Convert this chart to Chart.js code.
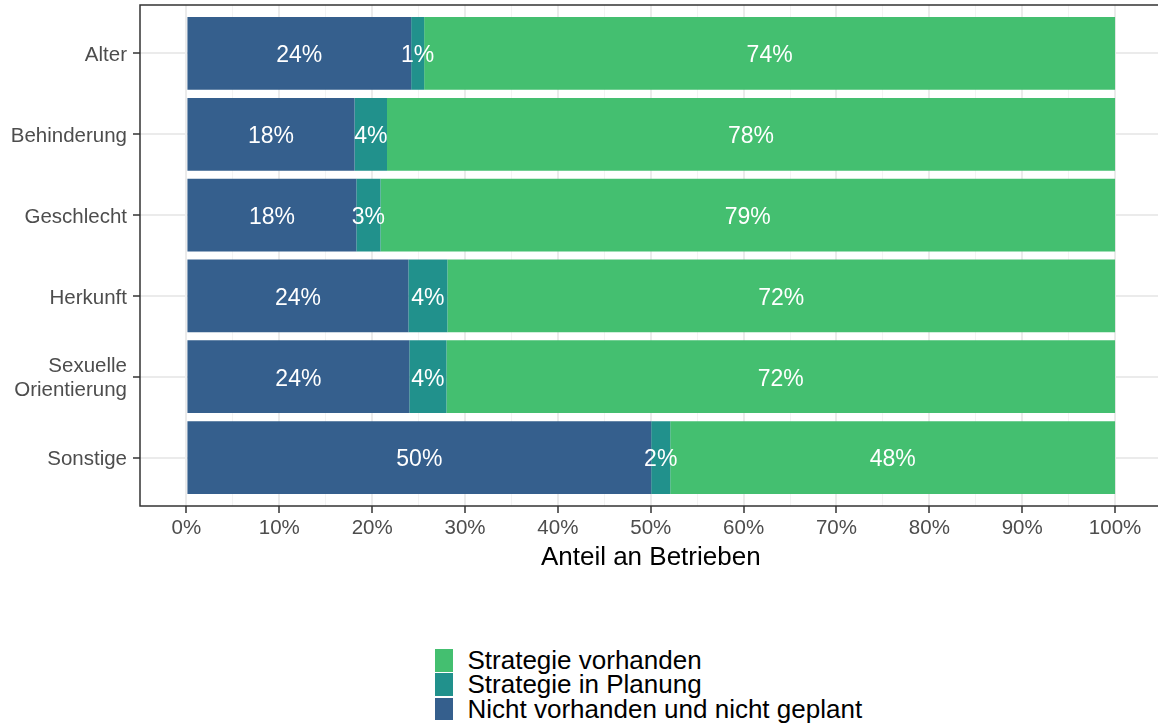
<!DOCTYPE html>
<html>
<head>
<meta charset="utf-8">
<script src="https://cdn.jsdelivr.net/npm/chart.js@4.4.1/dist/chart.umd.min.js"></script>
<style>
  html, body { margin: 0; padding: 0; background: #fff; overflow: hidden; width: 1158px; height: 725px; }
  #wrap { position: absolute; left: 0; top: 0; width: 1170px; height: 580px; }
  #legend { position: absolute; left: 435px; top: 649px; font-family: 'Liberation Sans', Arial, sans-serif; font-size: 26px; color: #000; }
  .item { position: relative; height: 24.3px; width: 500px; }
  .key { position: absolute; left: 0; top: 0; width: 18px; height: 22.8px; }
  .txt { position: absolute; left: 32.5px; top: -1px; line-height: 24px; white-space: nowrap; }
</style>
</head>
<body>
<div id="wrap"><canvas id="chart" width="1170" height="580"></canvas></div>
<div id="legend"></div>
<script>
// Categories, top to bottom
const categories = ['Alter', 'Behinderung', 'Geschlecht', 'Herkunft', ['Sexuelle', 'Orientierung'], 'Sonstige'];

// Series (stacked left to right)
const seriesNames = ['Nicht vorhanden und nicht geplant', 'Strategie in Planung', 'Strategie vorhanden'];
const seriesColors = ['#355F8D', '#21918C', '#44BF70'];
const nichtVorhanden = [24.2, 18.1, 18.3, 23.9, 24.0, 50.05];
const inPlanung = [1.4, 3.5, 2.6, 4.2, 4.0, 2.05];
const vorhanden = [74.4, 78.4, 79.1, 71.9, 72.0, 47.9];

// Axis ticks
const xMajorTicks = [0, 10, 20, 30, 40, 50, 60, 70, 80, 90, 100];
const xMinorTicks = [5, 15, 25, 35, 45, 55, 65, 75, 85, 95];
const xTitle = 'Anteil an Betrieben';

const FONT = "'Liberation Sans', Arial, sans-serif";

function toPoints(values) {
    return values.map((v, i) => ({ x: v, y: i }));
}

const seriesValues = [nichtVorhanden, inPlanung, vorhanden];

// White percentage labels in the middle of each segment
const segmentLabels = {
    id: 'segmentLabels',
    afterDatasetsDraw(chart) {
        const ctx = chart.ctx;
        ctx.save();
        ctx.fillStyle = '#fff';
        ctx.font = '23px ' + FONT;
        ctx.textAlign = 'center';
        ctx.textBaseline = 'middle';
        chart.data.datasets.forEach((ds, di) => {
            const meta = chart.getDatasetMeta(di);
            meta.data.forEach((bar, i) => {
                const p = bar.getProps(['x', 'base', 'y'], true);
                const text = Math.round(ds.data[i].x) + '%';
                ctx.fillText(text, (p.x + p.base) / 2, p.y + 2.5);
            });
        });
        ctx.restore();
    }
};

// Dark frame round the panel
const panelBorder = {
    id: 'panelBorder',
    afterDraw(chart) {
        const a = chart.chartArea;
        const ctx = chart.ctx;
        ctx.save();
        ctx.strokeStyle = '#333333';
        ctx.lineWidth = 1.5;
        ctx.strokeRect(a.left, a.top, a.right - a.left, a.bottom - a.top);
        ctx.restore();
    }
};

function initializeChart() {

    const ctx = document.getElementById('chart').getContext('2d');

    new Chart(ctx, {
        type: 'bar',
        data: {
            datasets: seriesNames.map((name, i) => ({
                label: name,
                data: toPoints(seriesValues[i]),
                backgroundColor: seriesColors[i],
                borderWidth: 0,
                barPercentage: 0.9,
                categoryPercentage: 1
            }))
        },
        options: {
            indexAxis: 'y',
            responsive: false,
            animation: false,
            devicePixelRatio: 1,
            layout: { padding: { top: 5, left: 0, right: 8.5, bottom: 0 } },
            plugins: {
                legend: { display: false },
                tooltip: { enabled: false }
            },
            scales: {
                x: {
                    type: 'linear',
                    stacked: true,
                    min: -5,
                    max: 105,
                    afterBuildTicks(scale) {
                        scale.ticks = xMajorTicks.concat(xMinorTicks).sort((a, b) => a - b).map(v => ({ value: v }));
                    },
                    afterFit(scale) {
                        scale.height = 74;
                        scale.paddingLeft = 0;
                        scale.paddingRight = 0;
                    },
                    border: { display: false },
                    grid: {
                        color: c => xMajorTicks.includes(c.tick.value) ? '#EBEBEB' : '#F3F3F3',
                        lineWidth: c => xMajorTicks.includes(c.tick.value) ? 2 : 1,
                        tickColor: c => xMajorTicks.includes(c.tick.value) ? '#333333' : 'rgba(0,0,0,0)',
                        tickWidth: 1.5,
                        tickLength: 7
                    },
                    ticks: {
                        autoSkip: false,
                        maxRotation: 0,
                        minRotation: 0,
                        padding: 3,
                        color: '#4D4D4D',
                        font: { family: FONT, size: 20.5 },
                        callback: v => xMajorTicks.includes(v) ? v + '%' : ''
                    },
                    title: {
                        display: true,
                        text: xTitle,
                        color: '#000',
                        font: { family: FONT, size: 26 },
                        padding: { top: 0, bottom: 7 }
                    }
                },
                y: {
                    type: 'linear',
                    stacked: true,
                    reverse: true,
                    offset: false,
                    min: -0.6,
                    max: categories.length - 0.4,
                    afterBuildTicks(scale) {
                        scale.ticks = categories.map((c, i) => ({ value: i }));
                    },
                    afterFit(scale) {
                        scale.width = 140;
                        scale.paddingTop = 0;
                        scale.paddingBottom = 0;
                    },
                    border: { display: false },
                    grid: {
                        offset: false,
                        color: '#EBEBEB',
                        lineWidth: 2,
                        tickColor: '#333333',
                        tickWidth: 1.5,
                        tickLength: 7
                    },
                    ticks: {
                        autoSkip: false,
                        padding: 6,
                        labelOffset: 2,
                        color: '#4D4D4D',
                        font: { family: FONT, size: 20.5, lineHeight: 1.17 },
                        callback: v => categories[v]
                    }
                }
            }
        },
        plugins: [segmentLabels, panelBorder]
    });
}

// Legend below the chart, green on top
function buildLegend() {
    const legend = document.getElementById('legend');
    for (let i = seriesNames.length - 1; i >= 0; i--) {
        const item = document.createElement('div');
        item.className = 'item';
        item.innerHTML = '<div class="key" style="background:' + seriesColors[i] + '"></div><div class="txt"></div>';
        item.querySelector('.txt').textContent = seriesNames[i];
        legend.appendChild(item);
    }
}

initializeChart();
buildLegend();
</script>
</body>
</html>
